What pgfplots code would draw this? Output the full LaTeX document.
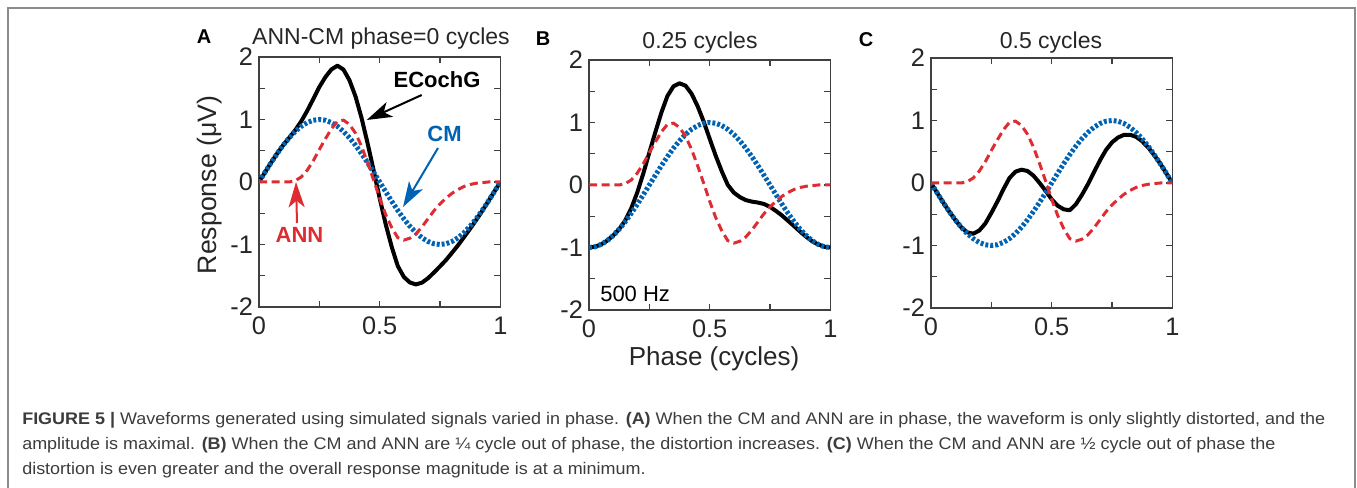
\documentclass[border=0pt]{standalone}
\usepackage{pgfplots}
\pgfplotsset{compat=1.18}
\usepackage{pgfplotstable}
\usepackage{fontspec}
\setmainfont{Liberation Sans}
\usetikzlibrary{arrows.meta}
\definecolor{cmblue}{RGB}{0,98,178}
\definecolor{annred}{RGB}{222,45,50}
\definecolor{axgray}{RGB}{64,64,64}
\definecolor{txtgray}{RGB}{38,38,38}
\definecolor{capgray}{RGB}{60,60,60}
\definecolor{framegray}{RGB}{140,140,140}

\pgfplotstableread{
x ann cmA ecA cmB ecB cmC ecC
0 0 0 0 -1 -1 0 0
0.025 0 0.156 0.156 -0.988 -0.988 -0.156 -0.156
0.05 0 0.309 0.309 -0.951 -0.951 -0.309 -0.309
0.075 0 0.454 0.454 -0.891 -0.891 -0.454 -0.454
0.1 0 0.588 0.588 -0.809 -0.809 -0.588 -0.588
0.125 0 0.707 0.707 -0.707 -0.707 -0.707 -0.707
0.15 0.02 0.809 0.829 -0.588 -0.568 -0.809 -0.789
0.175 0.08 0.891 0.971 -0.454 -0.374 -0.891 -0.811
0.2 0.19 0.951 1.141 -0.309 -0.119 -0.951 -0.761
0.225 0.34 0.988 1.328 -0.156 0.184 -0.988 -0.648
0.25 0.52 1 1.52 0 0.52 -1 -0.48
0.275 0.69 0.988 1.678 0.156 0.846 -0.988 -0.298
0.3 0.85 0.951 1.801 0.309 1.159 -0.951 -0.101
0.325 0.97 0.891 1.861 0.454 1.424 -0.891 0.079
0.35 0.99 0.809 1.799 0.588 1.578 -0.809 0.181
0.375 0.92 0.707 1.627 0.707 1.627 -0.707 0.213
0.4 0.78 0.588 1.368 0.809 1.589 -0.588 0.192
0.425 0.57 0.454 1.024 0.891 1.461 -0.454 0.116
0.45 0.31 0.309 0.619 0.951 1.261 -0.309 0.001
0.475 0.03 0.156 0.186 0.988 1.018 -0.156 -0.126
0.5 -0.26 0 -0.26 1 0.74 0 -0.26
0.525 -0.52 -0.156 -0.676 0.988 0.468 0.156 -0.364
0.55 -0.73 -0.309 -1.039 0.951 0.221 0.309 -0.421
0.575 -0.89 -0.454 -1.344 0.891 0.001 0.454 -0.436
0.6 -0.93 -0.588 -1.518 0.809 -0.121 0.588 -0.342
0.625 -0.90 -0.707 -1.607 0.707 -0.193 0.707 -0.193
0.65 -0.83 -0.809 -1.639 0.588 -0.242 0.809 -0.021
0.675 -0.72 -0.891 -1.611 0.454 -0.266 0.891 0.171
0.7 -0.59 -0.951 -1.541 0.309 -0.281 0.951 0.361
0.725 -0.46 -0.988 -1.448 0.156 -0.304 0.988 0.528
0.75 -0.35 -1 -1.35 0 -0.35 1 0.65
0.775 -0.26 -0.988 -1.248 -0.156 -0.416 0.988 0.728
0.8 -0.18 -0.951 -1.131 -0.309 -0.489 0.951 0.771
0.825 -0.12 -0.891 -1.011 -0.454 -0.574 0.891 0.771
0.85 -0.07 -0.809 -0.879 -0.588 -0.658 0.809 0.739
0.875 -0.04 -0.707 -0.747 -0.707 -0.747 0.707 0.667
0.9 -0.02 -0.588 -0.608 -0.809 -0.829 0.588 0.568
0.925 -0.01 -0.454 -0.464 -0.891 -0.901 0.454 0.444
0.95 0 -0.309 -0.309 -0.951 -0.951 0.309 0.309
0.975 0 -0.156 -0.156 -0.988 -0.988 0.156 0.156
1 0 0 0 -1 -1 0 0
}\data

\pgfplotsset{
  panel/.style={
    scale only axis, width=181pt, height=187.5pt,
    anchor=south west,
    xmin=0, xmax=1, ymin=-2, ymax=2,
    xtick={0,0.5,1}, xticklabels={0,0.5,1},
    minor xtick={0.25,0.75},
    ytick={-2,-1,0,1,2}, yticklabels={-2,-1,0,1,2},
    minor ytick={-1.5,-0.5,0.5,1.5},
    tick align=inside,
    major tick length=4.5pt, minor tick length=4.5pt,
    axis line style={axgray, line width=1.1pt},
    tick style={axgray, line width=1pt},
    tick label style={font=\fontsize{19pt}{19pt}\selectfont, text=txtgray},
    xticklabel style={yshift=-4pt},
    yticklabel style={xshift=-1pt},
  },
  ecg/.style={black, line width=3pt, line join=round},
  cm/.style={cmblue, line width=3.75pt, dash pattern=on 2.2pt off 1.5pt},
  ann/.style={annred, line width=2.25pt, dash pattern=on 6pt off 3.5pt},
}

\begin{document}
\begin{tikzpicture}[x=0.75pt, y=-0.75pt]
\useasboundingbox (0,0) rectangle (1357,488);
\draw[framegray, line width=1.1pt] (8,520) -- (8,8) -- (1355,8) -- (1355,520);

\coordinate (pA) at (259,307);
\coordinate (pB) at (589,310);
\coordinate (pC) at (931,308);

% Panel A
\begin{axis}[panel, at={(pA)}]
\addplot[ecg] table[x=x, y=ecA]{\data};
\addplot[cm] table[x=x, y=cmA]{\data};
\addplot[ann] table[x=x, y=ann]{\data};
\end{axis}

% Panel B
\begin{axis}[panel, at={(pB)}]
\addplot[ecg] table[x=x, y=ecB]{\data};
\addplot[cm] table[x=x, y=cmB]{\data};
\addplot[ann] table[x=x, y=ann]{\data};
\end{axis}

% Panel C
\begin{axis}[panel, at={(pC)}]
\addplot[ecg] table[x=x, y=ecC]{\data};
\addplot[cm] table[x=x, y=cmC]{\data};
\addplot[ann] table[x=x, y=ann]{\data};
\end{axis}

% panel letters and titles
\node[anchor=base, font=\bfseries\fontsize{15pt}{15pt}\selectfont, inner sep=0] at (204,43.5) {A};
\node[anchor=base, font=\bfseries\fontsize{15pt}{15pt}\selectfont, inner sep=0] at (543,46) {B};
\node[anchor=base, font=\bfseries\fontsize{15pt}{15pt}\selectfont, inner sep=0] at (866,46.5) {C};
\node[anchor=base, font=\fontsize{17.25pt}{17.25pt}\selectfont, text=txtgray, inner sep=0] at (381,45) {ANN-CM phase=0 cycles};
\node[anchor=base, font=\fontsize{17.25pt}{17.25pt}\selectfont, text=txtgray, inner sep=0] at (700,48.3) {0.25 cycles};
\node[anchor=base, font=\fontsize{17.25pt}{17.25pt}\selectfont, text=txtgray, inner sep=0] at (1051,48.3) {0.5 cycles};

% axis labels
\node[rotate=90, anchor=base, font=\fontsize{20pt}{20pt}\selectfont, text=txtgray, inner sep=0] at (216,185) {Response (μV)};
\node[anchor=base, font=\fontsize{19.5pt}{19.5pt}\selectfont, text=txtgray, inner sep=0] at (714,365) {Phase (cycles)};
\node[anchor=base west, font=\fontsize{16.5pt}{16.5pt}\selectfont, text=black, inner sep=0] at (600,302) {500 Hz};

% annotations in A
\node[anchor=base, font=\bfseries\fontsize{16.5pt}{16.5pt}\selectfont, inner sep=0] at (437,88) {ECochG};
\draw[black, line width=1.5pt, -{Stealth[length=19pt, width=12pt, inset=5pt]}] (421.7,95) -- (366.7,120);
\node[anchor=base, font=\bfseries\fontsize{16.5pt}{16.5pt}\selectfont, text=cmblue, inner sep=0] at (444.5,142) {CM};
\draw[cmblue, line width=1.5pt, -{Stealth[length=19pt, width=12pt, inset=5pt]}] (438,148) -- (403,207);
\node[anchor=base, font=\bfseries\fontsize{16.5pt}{16.5pt}\selectfont, text=annred, inner sep=0] at (299.5,243) {ANN};
\draw[annred, line width=1.5pt, -{Stealth[length=19pt, width=12pt, inset=5pt]}] (297,223) -- (296,182);

% caption
\begin{scope}[every node/.style={anchor=base west, inner sep=0, text=capgray, font=\fontsize{12.6pt}{14pt}\selectfont}]
\node at (22,424) {\scalebox{1.07}[1]{\textbf{FIGURE 5 |} Waveforms generated using simulated signals varied in phase. \textbf{(A)} When the CM and ANN are in phase, the waveform is only slightly distorted, and the}};
\node at (22,449) {\scalebox{1.07}[1]{amplitude is maximal. \textbf{(B)} When the CM and ANN are ¼ cycle out of phase, the distortion increases. \textbf{(C)} When the CM and ANN are ½ cycle out of phase the}};
\node at (22,474) {\scalebox{1.07}[1]{distortion is even greater and the overall response magnitude is at a minimum.}};
\end{scope}
\end{tikzpicture}
\end{document}
